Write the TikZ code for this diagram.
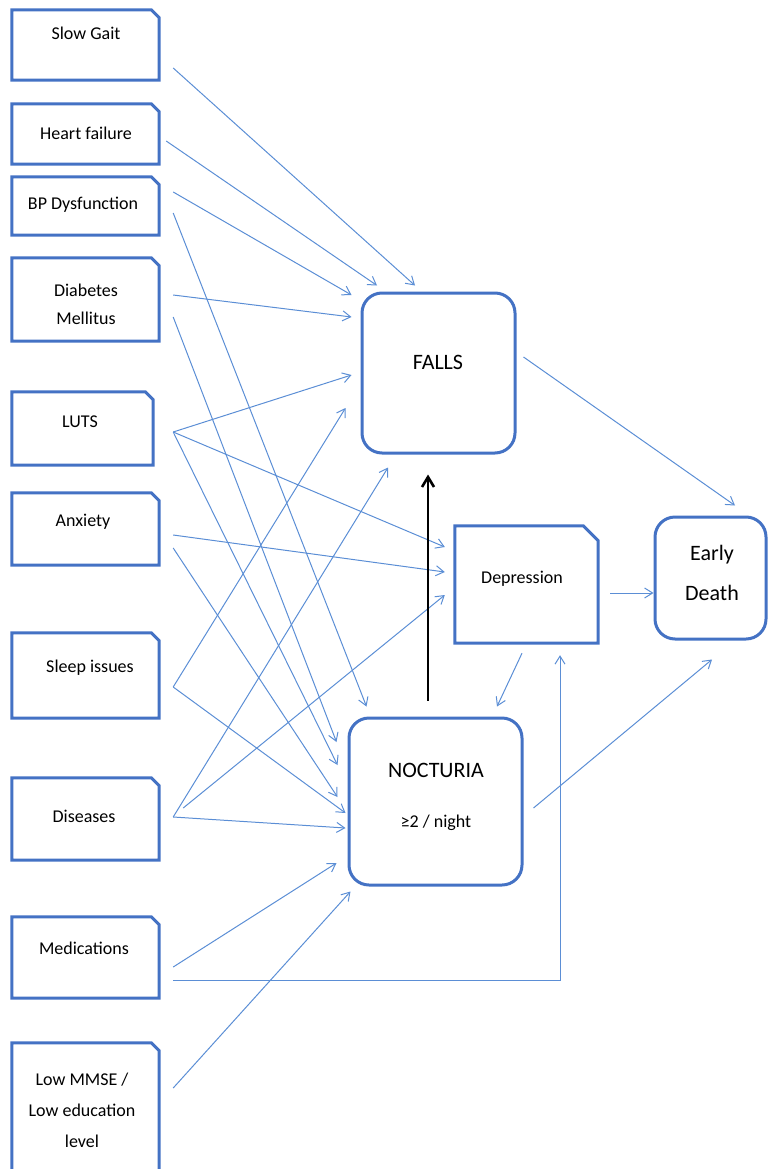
\documentclass[tikz,border=0pt]{standalone}
\usepackage{fontspec}
\setmainfont{Carlito}
\usetikzlibrary{arrows.meta}
\definecolor{boxblue}{RGB}{68,114,196}
\definecolor{linkblue}{RGB}{91,142,213}
\newcommand{\snipbox}[2]{\draw[boxline] (#1.south west) -- (#1.north west) -- ([xshift = -#2]#1.north east) -- ([yshift = -#2]#1.north east) -- (#1.south east) -- cycle;}

\begin{document}
\begin{tikzpicture}[x = 1pt, y = 1pt,
 factor/.style = {rectangle, minimum width = 147pt, inner sep = 0pt},
 boxline/.style = {draw = boxblue, line width = 3pt},
 outcome/.style = {rectangle, rounded corners = 20pt, draw = boxblue, line width = 3pt, inner sep = 0pt},
 txt/.style = {font = \fontsize{18}{28}\selectfont, align = center, inner sep = 0pt},
 bigtxt/.style = {font = \fontsize{22}{40}\selectfont, align = center, inner sep = 0pt},
 link/.style = {draw = linkblue, line width = 1pt, -{Straight Barb[length = 8pt, width = 10pt]}}]
\useasboundingbox (0,0) rectangle (768,-1169);
\clip (0,0) rectangle (768,-1169);

\node[factor, minimum height = 70pt] (gait) at (85.5,-45) {};
\node[factor, minimum height = 60pt] (heart) at (85.5,-134) {};
\node[factor, minimum height = 58pt] (bp) at (85.5,-206) {};
\node[factor, minimum height = 83pt] (diab) at (85.5,-299.5) {};
\node[factor, minimum height = 73pt, minimum width = 141pt] (luts) at (82.5,-428.5) {};
\node[factor, minimum height = 72pt] (anx) at (85.5,-529) {};
\node[factor, minimum height = 85pt] (sleep) at (85.5,-675.5) {};
\node[factor, minimum height = 82pt] (dis) at (85.5,-819) {};
\node[factor, minimum height = 81pt] (meds) at (85.5,-957.5) {};
\node[factor, minimum height = 142pt] (mmse) at (85.5,-1114) {};
\snipbox{gait}{8}
\snipbox{heart}{8}
\snipbox{bp}{8}
\snipbox{diab}{8}
\snipbox{luts}{8}
\snipbox{anx}{8}
\snipbox{sleep}{8}
\snipbox{dis}{8}
\snipbox{meds}{8}
\snipbox{mmse}{8}

\node[txt] (gaittxt) at (86,-33) {Slow Gait};
\node[txt] (hearttxt) at (86,-133) {Heart failure};
\node[txt] (bptxt) at (83,-205) {BP Dysfunction};
\node[txt] (diabtxt) at (86,-304) {Diabetes\\Mellitus};
\node[txt] (lutstxt) at (80,-422) {LUTS};
\node[txt] (anxtxt) at (83,-522) {Anxiety};
\node[txt] (sleeptxt) at (90,-668) {Sleep issues};
\node[txt] (distxt) at (84,-816) {Diseases};
\node[txt] (medstxt) at (84,-948) {Medications};
\node[txt, font = \fontsize{18}{31}\selectfont] (mmsetxt) at (82,-1110) {Low MMSE /\\Low education\\level};

\node[outcome, minimum width = 153pt, minimum height = 160pt] (falls) at (438.5,-373) {};
\node[factor, minimum width = 143pt, minimum height = 117pt] (dep) at (526.5,-584.5) {};
\snipbox{dep}{15}
\node[outcome, minimum width = 111pt, minimum height = 122pt] (death) at (710.5,-578) {};
\node[outcome, minimum width = 173pt, minimum height = 167pt] (noct) at (435.5,-801.5) {};

\node[bigtxt] (fallstxt) at (438,-362) {FALLS};
\node[txt] (deptxt) at (522,-579) {Depression};
\node[bigtxt] (deathtxt) at (712,-573) {Early\\Death};
\node[bigtxt] (nocttxt) at (436,-770) {NOCTURIA};
\node[txt] (nightxt) at (436,-823) {≥2 / night};

\draw[link] ([shift = {(14,-23)}]gait.east) -- ([shift = {(-23.5,6)}]falls.north);
\draw[link] ([shift = {(7,-7)}]heart.east) -- ([shift = {(-61.5,6)}]falls.north);
\draw[link] ([shift = {(14,14)}]bp.east) -- ([shift = {(-9,78)}]falls.west);
\draw[link] ([shift = {(14,-7)}]bp.east) -- ([shift = {(19,10)}]noct.north west);
\draw[link] ([shift = {(14,4.5)}]diab.east) -- ([shift = {(-9,56)}]falls.west);
\draw[link] ([shift = {(14,-17.5)}]diab.east) -- ([shift = {(-11,59.5)}]noct.west);
\draw[link] ([shift = {(20,-3.5)}]luts.east) -- ([shift = {(-9,-2)}]falls.west);
\draw[link] ([shift = {(20,-3.5)}]luts.east) -- ([shift = {(-10,37.5)}]dep.west);
\draw[link] ([shift = {(20,-3.5)}]luts.east) -- ([shift = {(-10,36.5)}]noct.west);
\draw[link] ([shift = {(14,-6)}]anx.east) -- ([shift = {(-10,12.5)}]dep.west);
\draw[link] ([shift = {(14,-19)}]anx.east) -- ([shift = {(-10,4.5)}]noct.west);
\draw[link] ([shift = {(14,-11.5)}]sleep.east) -- ([shift = {(-15,-35)}]falls.west);
\draw[link] ([shift = {(14,-11.5)}]sleep.east) -- ([shift = {(-2,-11.5)}]noct.west);
\draw[link] ([shift = {(14,2)}]dis.east) -- ([shift = {(-50.5,-13)}]falls.south);
\draw[link] ([shift = {(24,11)}]dis.east) -- ([shift = {(-10,-10.5)}]dep.west);
\draw[link] ([shift = {(14,2)}]dis.east) -- ([shift = {(-2,-26.5)}]noct.west);
\draw[link] ([shift = {(14,-9.5)}]meds.east) -- ([shift = {(-11,-61.5)}]noct.west);
\draw[link] ([shift = {(14,-22.5)}]meds.east) -| ([shift = {(33.5,-12)}]dep.south);
\draw[link] ([shift = {(14,26)}]mmse.east) -- ([shift = {(3,-5)}]noct.south west);
\draw[link] ([shift = {(-4.5,-10)}]dep.south) -- ([shift = {(61.5,10)}]noct.north);
\draw[link] ([shift = {(10,-6.5)}]noct.east) -- ([shift = {(1.5,-19)}]death.south);
\draw[link] ([shift = {(7,16)}]falls.east) -- ([shift = {(24.5,10)}]death.north);
\draw[link] ([shift = {(12,-8.5)}]dep.east) -- ([shift = {(0,-15)}]death.west);
\draw[black, line width = 2.6pt, -{Straight Barb[length = 10pt, width = 12pt]}] ([shift = {(-7.5,16)}]noct.north) -- ([shift = {(-10.5,-20)}]falls.south);
\end{tikzpicture}
\end{document}
